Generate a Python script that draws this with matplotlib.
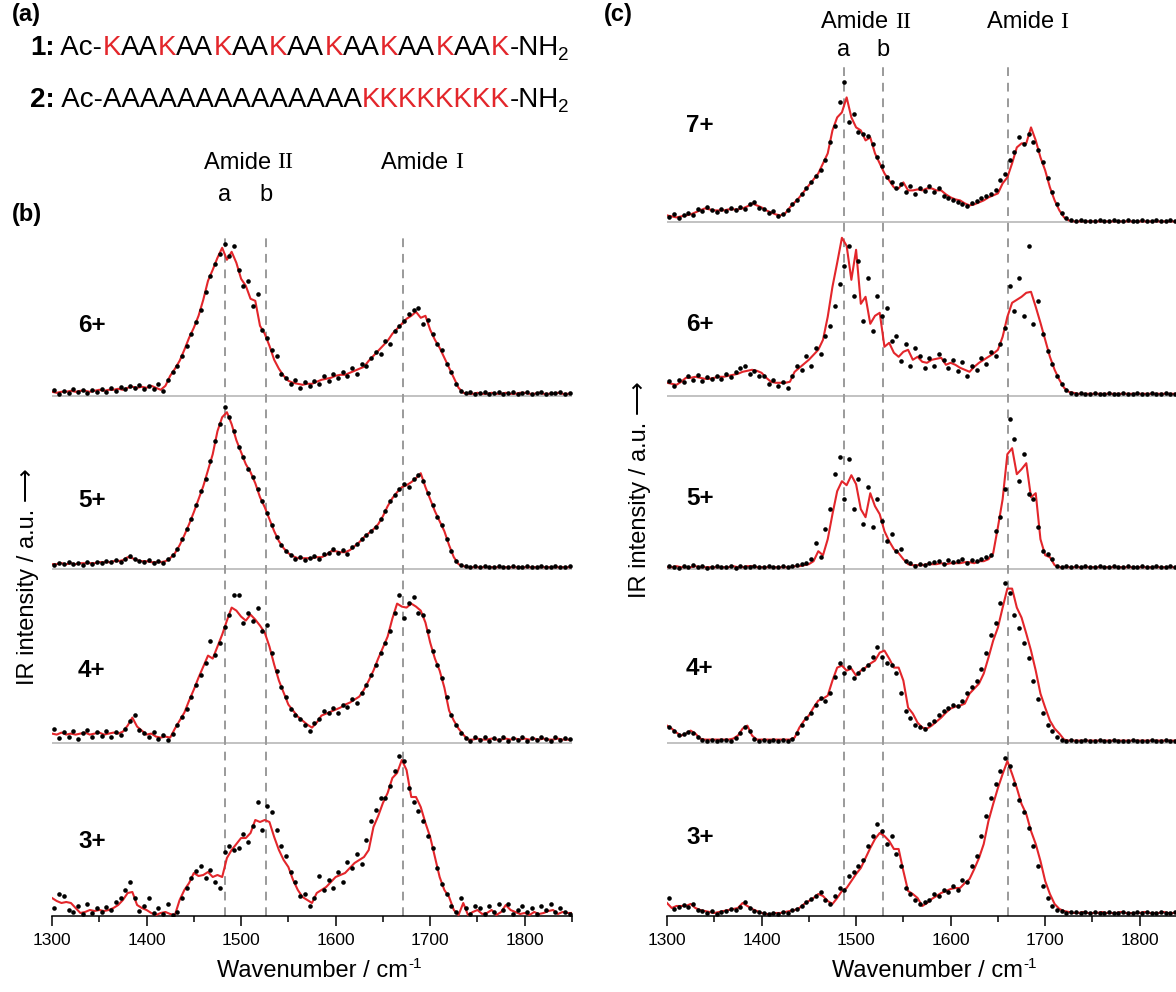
import matplotlib.pyplot as plt
import numpy as np
from matplotlib.ticker import MultipleLocator

plt.rcParams["font.family"] = ["Liberation Sans", "DejaVu Sans"]

W, H = 1176, 992
PANEL = 173.4      # height of one spectrum slot, px
AX_BOTTOM = 916    # bottom axis line, px from top
RED = "#e3262b"
GRAY = "#9a9a9a"

# wavenumber grids (cm-1)
wn_line = np.arange(1300, 1851, 5)
wn_dots = np.arange(1302.5, 1850, 5)

# ---- panel (b), heights (px above each baseline) ----
b6_line = [4, 3, 4, 4, 5, 4, 5, 5, 4, 5,
           6, 5, 6, 6, 7, 6, 8, 9, 8, 9,
           8, 10, 8, 6, 10, 20, 27, 35, 46, 58,
           68, 80, 96, 115, 126, 138, 148, 136, 144, 133,
           117, 110, 97, 95, 70, 62, 50, 36, 27, 20,
           15, 13, 12, 11, 12, 12, 14, 16, 17, 18,
           20, 21, 21, 23, 25, 27, 29, 35, 40, 45,
           50, 55, 62, 67, 72, 77, 80, 84, 78, 80,
           66, 56, 48, 38, 28, 18, 8, 3, 2, 2,
           3, 2, 2, 3, 2, 2, 3, 2, 2, 3,
           3, 2, 2, 3, 2, 2, 2, 3, 2, 2, 2]
b6_dots = [6, 2, 5, 3, 7, 4, 6, 3, 6, 4,
           7, 4, 8, 5, 9, 7, 10, 8, 11, 7,
           10, 7, 12, 5, 16, 24, 30, 40, 50, 62,
           74, 86, 104, 120, 132, 142, 152, 140, 150, 126,
           110, 115, 90, 102, 66, 58, 46, 40, 22, 18,
           12, 16, 8, 14, 10, 15, 12, 20, 15, 22,
           18, 24, 20, 28, 22, 32, 30, 38, 44, 42,
           55, 52, 65, 70, 75, 82, 86, 88, 72, 76,
           62, 52, 46, 32, 24, 12, 5, 3, 4, 2,
           3, 4, 2, 3, 4, 2, 3, 4, 2, 3,
           4, 2, 3, 4, 2, 3, 3, 4, 2, 3]

b5_line = [5, 5, 6, 5, 6, 5, 6, 6, 6, 6,
           7, 7, 7, 8, 8, 9, 12, 11, 9, 8,
           8, 7, 7, 7, 8, 11, 16, 24, 34, 45,
           57, 70, 83, 99, 115, 138, 152, 157, 145, 129,
           117, 105, 97, 86, 72, 62, 50, 38, 28, 21,
           16, 13, 11, 11, 11, 11, 12, 12, 14, 18,
           18, 17, 17, 19, 23, 27, 32, 36, 40, 45,
           53, 63, 71, 77, 82, 84, 87, 91, 96, 82,
           70, 58, 48, 38, 24, 12, 5, 3, 2, 2,
           2, 2, 2, 2, 2, 2, 2, 2, 2, 2,
           2, 2, 2, 2, 2, 2, 2, 2, 2, 2, 2]
b5_dots = [4, 6, 5, 7, 5, 6, 4, 7, 5, 7,
           6, 8, 7, 9, 7, 10, 13, 10, 8, 7,
           9, 6, 8, 6, 10, 14, 20, 30, 40, 50,
           64, 78, 90, 108, 128, 145, 162, 152, 138, 122,
           112, 100, 92, 80, 68, 56, 44, 32, 24, 18,
           14, 10, 12, 9, 11, 13, 10, 15, 16, 20,
           16, 19, 15, 22, 25, 30, 34, 38, 42, 50,
           58, 68, 74, 80, 85, 82, 90, 94, 88, 76,
           64, 52, 44, 30, 18, 8, 4, 3, 2, 3,
           2, 3, 2, 2, 3, 2, 2, 3, 2, 2,
           3, 2, 2, 3, 2, 2, 3, 2, 2, 3]

b4_line = [9, 8, 10, 8, 9, 8, 9, 10, 8, 9,
           10, 8, 9, 10, 9, 11, 17, 25, 16, 12,
           8, 9, 6, 5, 6, 5, 14, 22, 30, 42,
           53, 65, 76, 87, 84, 96, 108, 122, 135, 132,
           126, 122, 128, 123, 117, 110, 96, 78, 62, 50,
           38, 32, 26, 22, 18, 15, 20, 27, 29, 31,
           33, 35, 38, 40, 43, 46, 53, 62, 72, 84,
           95, 106, 124, 139, 136, 135, 139, 136, 132, 120,
           100, 84, 72, 55, 32, 22, 14, 8, 3, 3,
           4, 3, 3, 4, 3, 3, 4, 3, 4, 3,
           4, 3, 4, 3, 4, 3, 3, 4, 3, 3, 3]
b4_dots = [14, 5, 11, 6, 12, 4, 10, 13, 6, 11,
           7, 12, 6, 11, 8, 14, 22, 28, 13, 10,
           6, 11, 4, 8, 3, 9, 18, 26, 34, 46,
           58, 68, 80, 102, 88, 100, 116, 128, 148, 148,
           120, 130, 122, 135, 112, 118, 90, 72, 56, 46,
           34, 28, 24, 18, 12, 20, 24, 32, 30, 35,
           30, 38, 36, 44, 40, 50, 58, 68, 78, 90,
           100, 112, 130, 148, 125, 140, 146, 130, 128, 112,
           92, 78, 65, 46, 28, 18, 10, 5, 2, 6,
           3, 6, 2, 5, 3, 6, 2, 5, 3, 6,
           2, 5, 3, 6, 4, 2, 6, 3, 5, 4]

b3_line = [18, 15, 13, 14, 13, 8, 3, 4, 6, 5,
           6, 5, 6, 8, 11, 16, 23, 24, 11, 8,
           6, 3, 1, 3, 4, 2, 1, 16, 26, 33,
           43, 40, 41, 44, 39, 41, 39, 58, 66, 72,
           78, 78, 83, 96, 94, 96, 94, 79, 66, 56,
           49, 36, 26, 19, 16, 13, 23, 26, 29, 34,
           39, 41, 43, 48, 53, 56, 59, 66, 89, 100,
           113, 123, 138, 143, 156, 146, 119, 119, 109, 93,
           79, 59, 39, 26, 19, 6, 1, 13, 1, 4,
           6, 2, 3, 6, 1, 4, 11, 6, 4, 2,
           3, 1, 4, 2, 3, 5, 6, 2, 4, 3, 3]
b3_dots = [8, 22, 20, 6, 4, 10, 2, 12, 3, 8,
           4, 9, 6, 14, 18, 26, 34, 18, 5, 10,
           18, 3, 8, 2, 12, 1, 4, 18, 28, 38,
           45, 50, 38, 46, 34, 28, 64, 70, 66, 68,
           82, 74, 90, 114, 86, 110, 104, 86, 70, 60,
           44, 34, 20, 22, 10, 18, 40, 26, 36, 28,
           44, 34, 54, 48, 62, 52, 76, 95, 106, 118,
           118, 130, 145, 160, 155, 128, 114, 105, 95, 80,
           68, 48, 32, 22, 10, 4, 18, 8, 2, 10,
           8, 2, 10, 4, 12, 6, 12, 2, 6, 10,
           4, 8, 2, 10, 6, 12, 4, 8, 4, 2]

# ---- panel (c) ----
c7_line = [7, 6, 5, 6, 7, 8, 10, 12, 14, 13,
           12, 12, 12, 13, 13, 13, 14, 16, 19, 17,
           15, 12, 10, 8, 7, 9, 15, 20, 25, 31,
           37, 43, 49, 59, 69, 92, 105, 110, 125, 105,
           95, 92, 82, 85, 69, 59, 49, 42, 35, 34,
           40, 32, 32, 33, 32, 34, 34, 32, 32, 28,
           25, 23, 22, 19, 17, 18, 20, 22, 25, 27,
           29, 39, 45, 59, 75, 79, 79, 95, 82, 65,
           52, 35, 22, 12, 5, 2, 1, 1, 1, 1,
           1, 1, 1, 1, 1, 1, 1, 1, 1, 1,
           1, 1, 1, 1, 1, 1, 1, 1, 1, 1, 1]
c7_dots = [5, 8, 4, 7, 9, 7, 13, 11, 15, 12,
           10, 13, 11, 14, 12, 15, 13, 18, 20, 14,
           13, 9, 11, 6, 8, 12, 18, 22, 28, 34,
           40, 46, 52, 62, 80, 96, 120, 140, 100, 108,
           90, 88, 86, 78, 65, 56, 45, 40, 34, 38,
           30, 36, 28, 34, 31, 36, 30, 34, 26, 24,
           22, 20, 18, 16, 19, 21, 24, 26, 28, 32,
           42, 48, 62, 70, 85, 78, 88, 80, 72, 60,
           44, 30, 18, 9, 4, 2, 1, 2, 1, 1,
           1, 2, 1, 1, 2, 1, 1, 2, 1, 1,
           2, 1, 1, 2, 1, 1, 2, 1, 1, 2]

c6_line = [13, 12, 11, 14, 18, 18, 19, 18, 17, 17,
           18, 19, 19, 20, 21, 22, 24, 25, 26, 25,
           23, 18, 14, 13, 13, 13, 14, 24, 28, 32,
           36, 41, 46, 56, 79, 109, 133, 158, 150, 116,
           146, 92, 99, 72, 80, 83, 49, 53, 43, 39,
           44, 46, 36, 39, 34, 33, 36, 37, 38, 31,
           33, 31, 28, 26, 24, 29, 33, 36, 39, 42,
           46, 59, 79, 93, 96, 99, 103, 104, 89, 73,
           56, 39, 26, 16, 8, 4, 3, 2, 2, 2,
           2, 2, 2, 2, 2, 2, 2, 2, 2, 2,
           2, 2, 2, 2, 2, 2, 2, 2, 2, 2, 2]
c6_dots = [15, 10, 16, 14, 20, 16, 21, 15, 19, 17,
           20, 17, 22, 19, 24, 28, 30, 22, 25, 20,
           20, 12, 16, 10, 14, 8, 20, 30, 26, 40,
           30, 48, 42, 60, 70, 90, 112, 130, 150, 100,
           135, 75, 118, 65, 100, 80, 88, 55, 60, 35,
           52, 30, 48, 40, 28, 38, 30, 42, 36, 28,
           36, 25, 34, 20, 30, 26, 38, 32, 44, 40,
           52, 68, 110, 85, 118, 80, 150, 72, 95, 62,
           45, 32, 20, 12, 6, 3, 2, 3, 2, 2,
           3, 2, 2, 3, 2, 2, 3, 2, 2, 3,
           2, 2, 3, 2, 2, 3, 2, 2, 3, 2]

c5_line = [2, 2, 3, 2, 2, 2, 3, 2, 2, 2,
           2, 2, 2, 2, 3, 2, 2, 3, 3, 2,
           2, 2, 2, 2, 2, 2, 2, 3, 3, 4,
           5, 8, 18, 14, 30, 55, 78, 88, 84, 94,
           85, 60, 52, 76, 63, 55, 38, 28, 20, 16,
           10, 5, 4, 4, 4, 5, 5, 5, 6, 5,
           6, 6, 6, 7, 7, 6, 8, 8, 10, 16,
           42, 70, 115, 121, 95, 100, 106, 72, 76, 30,
           14, 12, 4, 2, 2, 2, 2, 2, 2, 2,
           2, 2, 2, 2, 2, 2, 2, 2, 2, 2,
           2, 2, 2, 2, 2, 2, 2, 2, 2, 2, 2]
c5_dots = [3, 2, 1, 3, 2, 4, 2, 3, 1, 2,
           3, 2, 2, 3, 1, 3, 2, 2, 3, 2,
           2, 3, 2, 2, 3, 2, 3, 4, 5, 6,
           10, 26, 12, 40, 60, 95, 112, 70, 110, 60,
           90, 45, 82, 42, 70, 48, 28, 35, 18, 20,
           8, 6, 3, 5, 4, 6, 7, 8, 5, 9,
           7, 8, 10, 6, 9, 8, 10, 12, 14, 38,
           52, 80, 150, 130, 88, 115, 75, 70, 42, 18,
           15, 10, 3, 2, 3, 2, 3, 2, 3, 2,
           2, 3, 2, 2, 3, 2, 2, 3, 2, 2,
           3, 2, 2, 3, 2, 2, 3, 2, 2, 3]

c4_line = [17, 14, 10, 7, 9, 12, 9, 4, 3, 3,
           3, 3, 3, 3, 4, 7, 14, 17, 7, 3,
           3, 3, 3, 3, 3, 3, 3, 5, 15, 22,
           27, 35, 42, 44, 47, 62, 75, 77, 72, 74,
           67, 72, 75, 79, 82, 90, 92, 84, 75, 75,
           62, 35, 29, 20, 15, 14, 17, 21, 25, 30,
           34, 36, 37, 39, 49, 54, 59, 69, 85, 102,
           115, 135, 154, 154, 135, 125, 109, 92, 72, 49,
           35, 22, 14, 9, 3, 2, 2, 2, 2, 2,
           2, 2, 2, 2, 2, 2, 2, 2, 2, 2,
           2, 2, 2, 2, 2, 2, 2, 2, 2, 2, 2]
c4_dots = [16, 12, 8, 9, 11, 10, 6, 3, 2, 3,
           2, 3, 3, 2, 5, 10, 16, 12, 4, 2,
           3, 2, 3, 2, 3, 2, 4, 10, 18, 25,
           30, 38, 45, 42, 50, 66, 80, 70, 76, 65,
           70, 74, 78, 86, 96, 86, 80, 78, 70, 50,
           32, 25, 18, 16, 14, 19, 22, 28, 32, 35,
           38, 37, 42, 50, 56, 62, 74, 90, 108, 120,
           140, 160, 150, 128, 115, 100, 85, 62, 44, 30,
           18, 12, 6, 3, 2, 3, 2, 2, 3, 2,
           2, 3, 2, 2, 3, 2, 2, 2, 3, 2,
           2, 2, 3, 2, 2, 3, 2, 2, 2, 3]

c3_line = [13, 8, 10, 10, 10, 12, 8, 6, 5, 4,
           3, 4, 5, 6, 7, 8, 13, 10, 7, 5,
           3, 2, 2, 3, 3, 4, 5, 6, 8, 12,
           15, 18, 22, 20, 15, 12, 18, 25, 28, 35,
           42, 48, 58, 68, 77, 83, 80, 75, 67, 67,
           45, 25, 22, 18, 10, 13, 17, 20, 23, 25,
           27, 28, 28, 33, 37, 47, 58, 72, 95, 112,
           128, 142, 155, 142, 128, 112, 102, 85, 72, 55,
           35, 22, 12, 7, 5, 4, 3, 3, 4, 3,
           3, 3, 4, 3, 3, 3, 4, 3, 3, 3,
           3, 4, 3, 3, 3, 4, 3, 3, 3, 3, 3]
c3_dots = [18, 7, 9, 11, 9, 12, 6, 5, 3, 5,
           2, 4, 5, 7, 6, 9, 14, 8, 5, 4,
           3, 2, 3, 2, 4, 3, 6, 7, 10, 14,
           17, 20, 24, 16, 12, 20, 28, 26, 40, 44,
           50, 56, 70, 80, 92, 85, 72, 80, 62, 50,
           28, 22, 16, 12, 14, 16, 22, 20, 26, 24,
           30, 26, 36, 34, 50, 60, 80, 100, 118, 132,
           145, 158, 150, 132, 116, 104, 88, 70, 50, 30,
           18, 10, 6, 5, 3, 4, 4, 3, 4, 3,
           4, 3, 3, 4, 3, 3, 4, 3, 3, 4,
           3, 4, 3, 3, 4, 3, 3, 4, 3, 3]

b_traces = [(b3_line, b3_dots), (b4_line, b4_dots), (b5_line, b5_dots), (b6_line, b6_dots)]
c_traces = [(c3_line, c3_dots), (c4_line, c4_dots), (c5_line, c5_dots),
            (c6_line, c6_dots), (c7_line, c7_dots)]
b_charges = ["3+", "4+", "5+", "6+"]
c_charges = ["3+", "4+", "5+", "6+", "7+"]
b_marks = {"a": 1483, "b": 1526, "I": 1671}
c_marks = {"a": 1487, "b": 1528, "I": 1661}

fig = plt.figure(figsize=(W / 100, H / 100), dpi=100)


def ftext(x, y, s, **kw):
    # place text at image pixel coordinates
    return fig.text(x / W, 1 - y / H, s, **kw)


def draw_panel(x0, x1, traces, charges, marks, dash_top, lab_x, lab_dy, amide_y, ab_y):
    ax = fig.add_axes([x0 / W, (H - AX_BOTTOM) / H, (x1 - x0) / W, AX_BOTTOM / H])
    ax.set_xlim(1300, 1850)
    ax.set_ylim(0, AX_BOTTOM)
    for s in ("top", "left", "right"):
        ax.spines[s].set_visible(False)
    ax.spines["bottom"].set_linewidth(1.1)
    ax.set_yticks([])
    ax.xaxis.set_major_locator(MultipleLocator(100))
    ax.xaxis.set_minor_locator(MultipleLocator(50))
    ax.tick_params(axis="x", which="major", direction="out", length=7, width=1.1,
                   labelsize=12.5, pad=5)
    ax.tick_params(axis="x", which="minor", direction="out", length=4, width=1.1)
    ax.set_xlabel("Wavenumber / cm", fontsize=17, labelpad=9)
    ax.annotate("-1", xy=(1, 1), xycoords=ax.xaxis.label, xytext=(1, 2),
                textcoords="offset points", va="top", ha="left", fontsize=11,
                annotation_clip=False)

    for k, ((line, dots), lab) in enumerate(zip(traces, charges)):
        base = k * PANEL
        if k > 0:
            ax.axhline(base, color="#b8b8b8", lw=1.2, zorder=1)
        ax.plot(wn_line, base + np.array(line), color=RED, lw=1.5, zorder=3)
        ax.plot(wn_dots, base + np.array(dots), "o", color="black", ms=3.3, mew=0, zorder=4)
        ftext(lab_x, AX_BOTTOM - base - lab_dy[k], lab, fontsize=17.5, fontweight="bold",
              ha="left", va="center")

    for key in ("a", "b", "I"):
        ax.vlines(marks[key], 0, dash_top, colors=GRAY, linestyles=(0, (4.5, 3.5)),
                  lw=1.4, zorder=2)

    to_px = lambda wn: x0 + (wn - 1300) * (x1 - x0) / 550.0
    ftext(to_px(marks["a"]), ab_y, "a", fontsize=17, ha="center", va="center")
    ftext(to_px(marks["b"]), ab_y, "b", fontsize=17, ha="center", va="center")
    xm = (to_px(marks["a"]) + to_px(marks["b"])) / 2 + 32
    ftext(xm, amide_y, "Amide ", fontsize=17, ha="right", va="center")
    ftext(xm, amide_y, "II", fontsize=17, ha="left", va="center", family="Liberation Serif")
    xi = to_px(marks["I"]) + 52
    ftext(xi, amide_y, "Amide ", fontsize=17, ha="right", va="center")
    ftext(xi, amide_y, "I", fontsize=17, ha="left", va="center", family="Liberation Serif")
    return ax


draw_panel(52, 572, b_traces, b_charges, b_marks, AX_BOTTOM - 233, 78,
           [74, 72, 69, 70], 163, 195)
draw_panel(667, 1187, c_traces, c_charges, c_marks, AX_BOTTOM - 65, 686,
           [78, 74, 71, 71, 97], 22, 50)

# panel letters
ftext(12, 15, "(a)", fontsize=17, fontweight="bold", va="center")
ftext(12, 215, "(b)", fontsize=17, fontweight="bold", va="center")
ftext(604, 15, "(c)", fontsize=17, fontweight="bold", va="center")

# y labels with arrow
ftext(28, 577, "IR intensity / a.u. \u27f6", fontsize=17, rotation=90,
      ha="center", va="center", family=["Liberation Sans", "DejaVu Sans"])
ftext(640, 490, "IR intensity / a.u. \u27f6", fontsize=17, rotation=90,
      ha="center", va="center", family=["Liberation Sans", "DejaVu Sans"])

# peptide sequences
seq1 = [("1:", "black", "bold"), (" Ac-", "black", "normal")]
for i in range(8):
    seq1.append(("K", RED, "normal"))
    if i < 7:
        seq1.append(("AA", "black", "normal"))
seq1.append(("-NH", "black", "normal"))
seq2 = [("2:", "black", "bold"), (" Ac-" + "A" * 14, "black", "normal"),
        ("K" * 8, RED, "normal"), ("-NH", "black", "normal")]


def seq_line(y, parts, size=20):
    ax = fig.axes[-1]
    prev = ftext(30, y, parts[0][0], color=parts[0][1], fontweight=parts[0][2],
                 fontsize=size, va="center", ha="left")
    for s, c, w in parts[1:]:
        prev = ax.annotate(s, xy=(1, 0), xycoords=prev, va="bottom", ha="left",
                           color=c, fontweight=w, fontsize=size, annotation_clip=False)
    ax.annotate("2", xy=(1, 0), xycoords=prev, xytext=(-0.5, -2.5),
                textcoords="offset points", va="bottom", ha="left",
                fontsize=size * 0.68, annotation_clip=False)


seq_line(48, seq1)
seq_line(100, seq2)

fig.savefig("out.png", dpi=100)
